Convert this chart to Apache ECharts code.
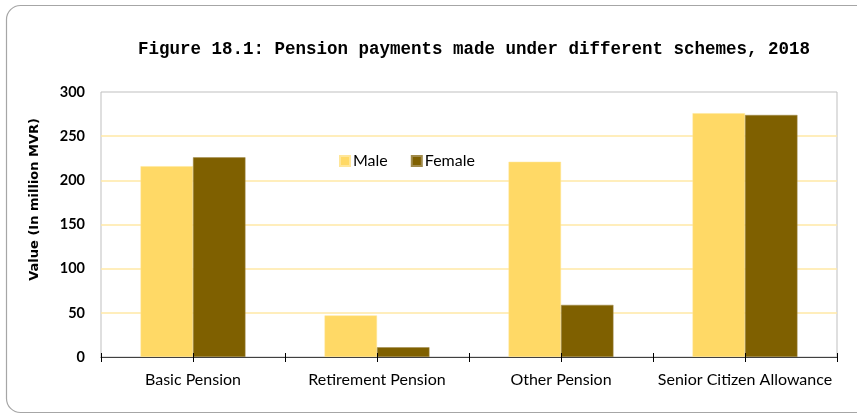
<!DOCTYPE html>
<html>
<head>
<meta charset="utf-8">
<script src="https://cdn.jsdelivr.net/npm/echarts@6/dist/echarts.min.js"></script>
<style>
html,body{margin:0;padding:0;background:#fff;}
#c{width:857px;height:414px;}
</style>
</head>
<body>
<div id="c"></div>
<script>
var categories = ['Basic Pension', 'Retirement Pension', 'Other Pension', 'Senior Citizen Allowance'];
var maleValues = [216, 47, 221, 276];
var femaleValues = [226, 11, 59, 274];
var yTicks = [0, 50, 100, 150, 200, 250, 300];

var halfCats = ['', '', '', '', '', '', '', ''];
var chart = echarts.init(document.getElementById('c'), null, {renderer: 'canvas'});
var L = 101, R = 837, T = 92, B = 357;
chart.setOption({
  animation: false,
  backgroundColor: '#fff',
  title: {
    text: 'Figure 18.1: Pension payments made under different schemes, 2018',
    left: 469, top: 36, textAlign: 'center',
    textStyle: {fontFamily: 'Liberation Mono', fontWeight: 'bold', fontSize: 17.5, color: '#000'}
  },
  legend: {
    left: 334, top: 148, itemWidth: 10, itemHeight: 10, itemGap: 23,
    icon: 'rect',
    textStyle: {fontFamily: 'Lato', fontSize: 16, color: '#000', padding: [0,0,0,-2]},
    data: ['Male', 'Female']
  },
  grid: {left: L, right: 857 - R, top: T, bottom: 414 - B, show: true, borderColor: '#bfbfbf', borderWidth: 1},
  xAxis: [{
    type: 'category', data: categories, z: 5,
    axisLine: {lineStyle: {color: '#404040', width: 1.2}},
    axisTick: {show: false},
    axisLabel: {fontFamily: 'Lato', fontSize: 16, color: '#000', margin: 15, interval: 0},
    splitLine: {show: false}
  }, {
    type: 'category', data: halfCats, position: 'bottom', z: 5,
    axisLine: {show: false},
    axisTick: {show: true, length: 5, inside: false, lineStyle: {color: '#000'}},
    axisLabel: {show: false}
  }, {
    type: 'category', data: halfCats, position: 'bottom', z: 5,
    axisLine: {show: false},
    axisTick: {show: true, length: 4, inside: true, lineStyle: {color: '#000'}},
    axisLabel: {show: false}
  }],
  yAxis: {
    type: 'value', min: yTicks[0], max: yTicks[yTicks.length - 1], interval: 50, z: 1,
    axisLine: {show: false}, axisTick: {show: false},
    axisLabel: {fontFamily: 'Lato', fontWeight: 'bold', fontSize: 14.5, color: '#000', margin: 16},
    splitLine: {showMinLine: false, showMaxLine: false, lineStyle: {color: '#ffe9a6', width: 1.5}}
  },
  graphic: [{
    type: 'text', left: 28, top: 118, rotation: Math.PI / 2,
    style: {text: 'Value (In million MVR)', fontFamily: 'DejaVu Sans', fontWeight: 'bold', fontSize: 13, fill: '#000'}
  }, {
    type: 'rect', shape: {x: 6.5, y: 5.5, width: 880, height: 407, r: 14},
    style: {fill: 'none', stroke: '#a6a6a6', lineWidth: 1.2}, silent: true
  }],
  series: [{
    name: 'Male', type: 'bar', data: maleValues, barGap: '0%', barCategoryGap: '43%',
    itemStyle: {color: '#ffd966', borderColor: '#ffe699', borderWidth: 0.5}
  }, {
    name: 'Female', type: 'bar', data: femaleValues, barGap: '0%', barCategoryGap: '43%',
    itemStyle: {color: '#7f6000', borderColor: '#a08a4a', borderWidth: 0.5}
  }]
});
</script>
</body>
</html>
